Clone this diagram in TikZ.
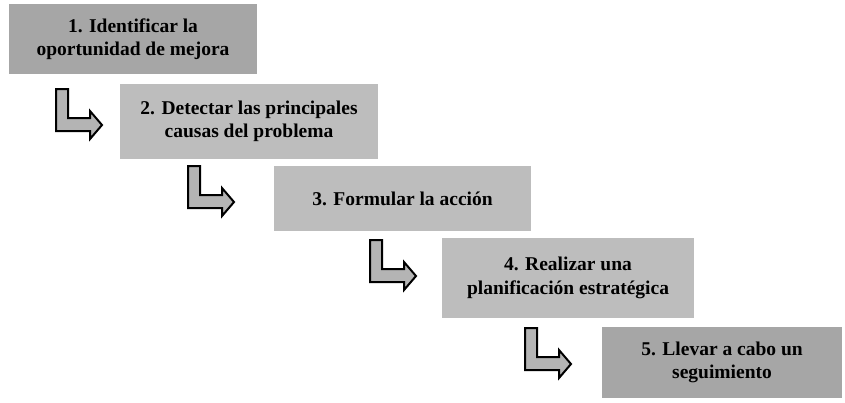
\documentclass[tikz,border=0pt]{standalone}
\usepackage{fontspec}
\setmainfont{Liberation Serif}
\definecolor{boxdark}{HTML}{A6A6A6}
\definecolor{boxlight}{HTML}{BDBDBD}
\definecolor{arrowfill}{HTML}{B4B4B4}
\begin{document}
\begin{tikzpicture}[x=1pt,y=-1pt,
  stepbox/.style={rectangle, draw=none, align=center, inner sep=0pt,
    font=\fontsize{19.5}{23.5}\selectfont\bfseries},
  darkbox/.style={stepbox, fill=boxdark},
  lightbox/.style={stepbox, fill=boxlight},
  larrow/.pic={
    \draw[line width=2pt, fill=arrowfill, line join=miter]
      (1,1) -- (13,1) -- (13,30) -- (35,30) -- (35,23) -- (47,37)
      -- (35,51) -- (35,43) -- (1,43) -- cycle;
  }]
\useasboundingbox (0,0) rectangle (845,402);
\fill[white] (0,0) rectangle (845,402);

\node[darkbox, minimum width=248pt, minimum height=70pt] (b1) at (133,39)
  {1. Identificar la\\oportunidad de mejora};
\node[lightbox, minimum width=258pt, minimum height=75pt] (b2) at (249,121.5)
  {2. Detectar las principales\\causas del problema};
\node[lightbox, minimum width=257pt, minimum height=65pt] (b3) at (402.5,198.5)
  {3. Formular la acción};
\node[lightbox, minimum width=252pt, minimum height=80pt] (b4) at (568,278)
  {4. Realizar una\\planificación estratégica};
\node[darkbox, minimum width=240pt, minimum height=71pt] (b5) at (722,362.5)
  {5. Llevar a cabo un\\seguimiento};

\pic at (55,88) {larrow};
\pic at (187,165) {larrow};
\pic at (369,239) {larrow};
\pic at (524,327) {larrow};
\end{tikzpicture}
\end{document}
